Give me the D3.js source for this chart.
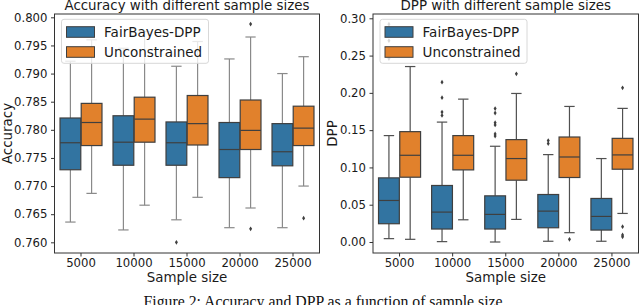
<!DOCTYPE html>
<html>
<head>
<meta charset="utf-8">
<script src="https://cdn.jsdelivr.net/npm/d3@7"></script>
<style>
  body { margin: 0; background: #fff; }
  svg { display: block; }
</style>
</head>
<body>
<script>
var sampleSizes = ["5000", "10000", "15000", "20000", "25000"];
var seriesNames = ["FairBayes-DPP", "Unconstrained"];
var seriesColors = ["#3274a1", "#e1812c"];

// accuracy, FairBayes-DPP
var accFairLo  = [0.7636, 0.7622, 0.7640, 0.7626, 0.7626];
var accFairQ1  = [0.7729, 0.7737, 0.7737, 0.7715, 0.7736];
var accFairMed = [0.7777, 0.7778, 0.7777, 0.7765, 0.7761];
var accFairQ3  = [0.7821, 0.7825, 0.7814, 0.7813, 0.7811];
var accFairHi  = [0.7922, 0.7945, 0.7913, 0.7926, 0.7900];
var accFairOut = [[], [], [0.7600], [], []];
// accuracy, Unconstrained
var accUncLo  = [0.7687, 0.7666, 0.7680, 0.7661, 0.7700];
var accUncQ1  = [0.7772, 0.7778, 0.7773, 0.7765, 0.7772];
var accUncMed = [0.7813, 0.7819, 0.7811, 0.7799, 0.7803];
var accUncQ3  = [0.7847, 0.7858, 0.7861, 0.7853, 0.7842];
var accUncHi  = [0.7960, 0.7975, 0.7957, 0.7965, 0.7930];
var accUncOut = [[], [], [], [0.7988, 0.7624], [0.7643]];

// DPP, FairBayes-DPP
var dppFairLo  = [0.0045, 0.0005, 0.0000, 0.0010, 0.0010];
var dppFairQ1  = [0.0245, 0.0174, 0.0174, 0.0191, 0.0160];
var dppFairMed = [0.0557, 0.0401, 0.0370, 0.0414, 0.0343];
var dppFairQ3  = [0.0860, 0.0758, 0.0619, 0.0637, 0.0584];
var dppFairHi  = [0.1427, 0.1608, 0.1284, 0.1172, 0.1119];
var dppFairOut = [[0.292, 0.270, 0.246], [0.2143, 0.1935, 0.1742, 0.1698],
                  [0.179, 0.173, 0.160, 0.157, 0.145, 0.142], [0.136, 0.132], []];
// DPP, Unconstrained
var dppUncLo  = [0.0036, 0.0298, 0.0303, 0.0125, 0.0383];
var dppUncQ1  = [0.0869, 0.0967, 0.0829, 0.0865, 0.0976];
var dppUncMed = [0.1163, 0.1163, 0.1119, 0.1140, 0.1168];
var dppUncQ3  = [0.1480, 0.1427, 0.1373, 0.1408, 0.1390];
var dppUncHi  = [0.2353, 0.1916, 0.1992, 0.1818, 0.1792];
var dppUncOut = [[], [], [0.2255], [0.0036], [0.2068, 0.0205, 0.0094, 0.0070]];

var accTicks = [0.760, 0.765, 0.770, 0.775, 0.780, 0.785, 0.790, 0.795, 0.800];
var dppTicks = [0.00, 0.05, 0.10, 0.15, 0.20, 0.25, 0.30];

var gray = "#3f3f3f";
var font = "DejaVu Sans";

function buildSeries(lo, q1, med, q3, hi, out) {
  return sampleSizes.map(function(s, i) {
    return { size: s, lo: lo[i], q1: q1[i], med: med[i], q3: q3[i], hi: hi[i], out: out[i] };
  });
}

var svg = d3.select("body").append("svg")
    .attr("width", 640)
    .attr("height", 305);

function drawPanel(p) {
  var x = d3.scaleBand().domain(sampleSizes).range([p.left, p.right]);
  var hue = d3.scaleBand().domain(seriesNames).range([0, x.bandwidth() * 0.8]);
  var y = d3.scaleLinear().domain(p.domain).range([p.bottom, p.top]);
  var boxW = hue.bandwidth() * 0.98;
  var g = svg.append("g");

  p.series.forEach(function(ser, k) {
    ser.forEach(function(d) {
      var cx = x(d.size) + x.bandwidth() * 0.1 + hue(seriesNames[k]) + hue.bandwidth() / 2;
      var bg = g.append("g");
      // whiskers
      bg.append("line").attr("x1", cx).attr("x2", cx).attr("y1", y(d.q1)).attr("y2", y(d.lo))
        .attr("stroke", p.whisker).attr("stroke-width", 1.2);
      bg.append("line").attr("x1", cx).attr("x2", cx).attr("y1", y(d.q3)).attr("y2", y(d.hi))
        .attr("stroke", p.whisker).attr("stroke-width", 1.2);
      [d.lo, d.hi].forEach(function(v) {
        bg.append("line").attr("x1", cx - boxW / 4).attr("x2", cx + boxW / 4)
          .attr("y1", y(v)).attr("y2", y(v))
          .attr("stroke", p.whisker).attr("stroke-width", 1.2);
      });
      bg.append("rect")
        .attr("x", cx - boxW / 2).attr("width", boxW)
        .attr("y", y(d.q3)).attr("height", y(d.q1) - y(d.q3))
        .attr("fill", seriesColors[k]).attr("stroke", gray).attr("stroke-width", 1.2);
      bg.append("line").attr("x1", cx - boxW / 2).attr("x2", cx + boxW / 2)
        .attr("y1", y(d.med)).attr("y2", y(d.med))
        .attr("stroke", gray).attr("stroke-width", 1.2);
      bg.selectAll("path.flier").data(d.out).enter().append("path")
        .attr("class", "flier")
        .attr("d", "M0,-2.4L1.5,0L0,2.4L-1.5,0Z")
        .attr("transform", function(v) { return "translate(" + cx + "," + y(v) + ")"; })
        .attr("fill", gray);
    });
  });

  // frame
  g.append("rect")
    .attr("x", p.left).attr("y", p.top)
    .attr("width", p.right - p.left).attr("height", p.bottom - p.top)
    .attr("fill", "none").attr("stroke", "#333").attr("stroke-width", 1);

  var yAxis = g.append("g")
    .attr("transform", "translate(" + p.left + ",0)")
    .call(d3.axisLeft(y).tickValues(p.ticks).tickFormat(d3.format(p.fmt)).tickSize(3.5).tickPadding(3.5));
  var xAxis = g.append("g")
    .attr("transform", "translate(0," + p.bottom + ")")
    .call(d3.axisBottom(x).tickSize(3.5).tickPadding(2.5));
  [xAxis, yAxis].forEach(function(a) {
    a.select(".domain").remove();
    a.selectAll("line").attr("stroke", "#333");
    a.selectAll("text").attr("font-family", font).attr("font-size", 11.7).attr("fill", "#1a1a1a");
  });

  g.append("text")
    .attr("x", (p.left + p.right) / 2).attr("y", 9.5)
    .attr("text-anchor", "middle")
    .attr("font-family", font).attr("font-size", 13.4).attr("fill", "#1a1a1a")
    .text(p.title);
  g.append("text")
    .attr("x", (p.left + p.right) / 2).attr("y", 281.5)
    .attr("text-anchor", "middle")
    .attr("font-family", font).attr("font-size", 13.4).attr("fill", "#1a1a1a")
    .text("Sample size");
  g.append("text")
    .attr("transform", "translate(" + p.ylabelX + "," + ((p.top + p.bottom) / 2) + ")rotate(-90)")
    .attr("text-anchor", "middle")
    .attr("font-family", font).attr("font-size", 13.4).attr("fill", "#1a1a1a")
    .text(p.ylabel);

  // legend
  var lg = g.append("g").attr("transform", "translate(" + (p.left + 7) + ",19.3)");
  lg.append("rect").attr("width", 147).attr("height", 44).attr("rx", 2.5)
    .attr("fill", "#fff").attr("fill-opacity", 0.8).attr("stroke", "#d8d8d8");
  seriesNames.forEach(function(name, k) {
    lg.append("rect").attr("x", 5).attr("y", 7.4 + k * 20).attr("width", 28).attr("height", 10.6)
      .attr("fill", seriesColors[k]).attr("stroke", gray).attr("stroke-width", 1);
    lg.append("text").attr("x", 42.6).attr("y", 18 + k * 20)
      .attr("font-family", font).attr("font-size", 13.5).attr("fill", "#1a1a1a")
      .text(name);
  });
}

drawPanel({
  left: 54.5, right: 319.5, top: 14, bottom: 253,
  domain: [0.7581, 0.80059],
  ticks: accTicks, fmt: ".3f",
  title: "Accuracy with different sample sizes",
  ylabel: "Accuracy", ylabelX: 11.5,
  whisker: "#8a8a8a",
  series: [
    buildSeries(accFairLo, accFairQ1, accFairMed, accFairQ3, accFairHi, accFairOut),
    buildSeries(accUncLo, accUncQ1, accUncMed, accUncQ3, accUncHi, accUncOut)
  ]
});

drawPanel({
  left: 373, right: 638.5, top: 14, bottom: 253,
  domain: [-0.01475, 0.30577],
  ticks: dppTicks, fmt: ".2f",
  title: "DPP with different sample sizes",
  ylabel: "DPP", ylabelX: 337,
  whisker: "#505050",
  series: [
    buildSeries(dppFairLo, dppFairQ1, dppFairMed, dppFairQ3, dppFairHi, dppFairOut),
    buildSeries(dppUncLo, dppUncQ1, dppUncMed, dppUncQ3, dppUncHi, dppUncOut)
  ]
});

svg.append("text")
  .attr("x", 325).attr("y", 307)
  .attr("text-anchor", "middle")
  .attr("font-family", "Liberation Serif").attr("font-size", 15.8).attr("fill", "#111")
  .text("Figure 2: Accuracy and DPP as a function of sample size.");
</script>
</body>
</html>
